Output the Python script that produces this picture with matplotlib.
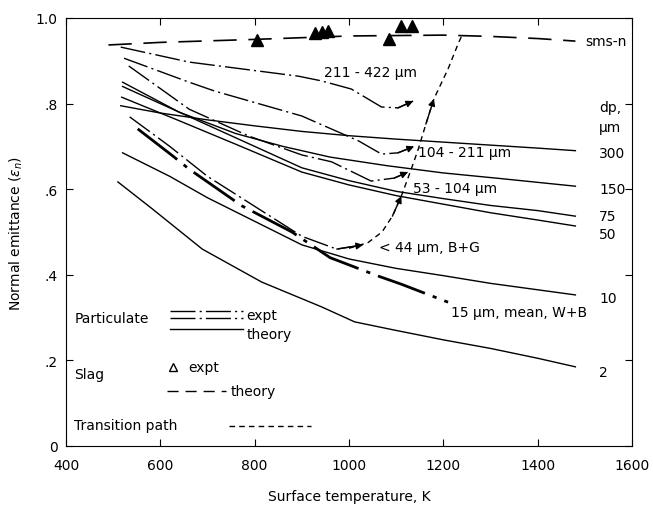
import matplotlib.pyplot as plt

# particulate theory curves, one per particle diameter (um)
t300 = [516, 600, 700, 800, 900, 1000, 1100, 1200, 1300, 1400, 1480]
e300 = [.795, .778, .762, .748, .735, .725, .717, .710, .703, .696, .690]
t150 = [520, 640, 760, 860, 960, 1080, 1200, 1320, 1480]
e150 = [.850, .780, .730, .700, .675, .655, .638, .625, .607]
t75 = [520, 640, 760, 900, 1000, 1100, 1200, 1300, 1400, 1480]
e75 = [.840, .780, .720, .650, .620, .595, .578, .562, .550, .537]
t50 = [518, 640, 760, 900, 1000, 1100, 1200, 1300, 1400, 1480]
e50 = [.815, .760, .705, .640, .610, .585, .565, .545, .528, .514]
t10 = [520, 620, 700, 800, 900, 1000, 1100, 1200, 1300, 1400, 1480]
e10 = [.685, .630, .580, .525, .470, .437, .415, .398, .380, .365, .353]
t2 = [510, 583, 689, 815, 942, 1012, 1100, 1200, 1300, 1400, 1480]
e2 = [.617, .554, .460, .383, .325, .290, .270, .248, .228, .205, .185]

dp_labels = ['300', '150', '75', '50', '10', '2']
dp_label_e = [.685, .600, .538, .496, .346, .173]

# particulate experiments
x211 = [516, 661, 893, 942, 1005, 1069, 1104, 1136]
y211 = [.932, .897, .864, .853, .834, .792, .790, .806]
x104 = [523, 661, 716, 900, 1020, 1069, 1104, 1138]
y104 = [.906, .850, .829, .771, .713, .682, .685, .700]
x53 = [533, 661, 788, 900, 963, 1047, 1096, 1125]
y53 = [.888, .787, .724, .680, .664, .619, .626, .640]
x44 = [535, 620, 700, 800, 900, 974, 1030]
y44 = [.769, .700, .630, .560, .490, .460, .470]
x15 = [552, 626, 661, 773, 879, 960, 1062, 1111, 1210]
y15 = [.741, .678, .647, .561, .500, .440, .397, .378, .336]

# slag
slag_t = [490, 600, 800, 1000, 1200, 1300, 1400, 1480]
slag_e = [.937, .943, .950, .958, .960, .957, .952, .946]
slag_exp_t = [805, 927, 942, 955, 1085, 1111, 1134]
slag_exp_e = [.949, .965, .967, .970, .951, .981, .981]

# transition path
path_t = [1000, 1040, 1070, 1092, 1111, 1132, 1147, 1163, 1180, 1210, 1233, 1241]
path_e = [.462, .475, .500, .537, .584, .647, .694, .752, .811, .881, .944, .963]

theory_curves = [(t300, e300), (t150, e150), (t75, e75),
                 (t50, e50), (t10, e10), (t2, e2)]
expt_curves = [(x211, y211), (x104, y104), (x53, y53), (x44, y44), (x15, y15)]

DASHDOT = (0, (18, 3, 1.5, 3))

fig = plt.figure(figsize=(6.53, 5.06), dpi=100)
ax = fig.add_axes([66/653, 1-447/506, 566/653, 428/506])

for t, e in theory_curves:
    ax.plot(t, e, color='k', lw=1.0)

for i, (t, e) in enumerate(expt_curves):
    lw = 2.0 if i == 4 else 1.0
    ax.plot(t, e, color='k', lw=lw, linestyle=DASHDOT)
    if i < 4:
        ax.annotate('', xy=(t[-1], e[-1]), xytext=(t[-2], e[-2]),
                    arrowprops=dict(arrowstyle='-|>', color='k', lw=1.0,
                                    mutation_scale=10, shrinkA=0, shrinkB=0))

ax.plot(slag_t, slag_e, color='k', lw=1.2, linestyle=(0, (14, 7)))
ax.plot(slag_exp_t, slag_exp_e, linestyle='none', marker='^', color='k',
        markersize=8)
ax.plot(path_t, path_e, color='k', lw=1.0, linestyle=(0, (4, 3)))
for i in (3, 7):
    ax.annotate('', xy=(path_t[i+1], path_e[i+1]), xytext=(path_t[i], path_e[i]),
                arrowprops=dict(arrowstyle='-|>', color='k', lw=1.0,
                                mutation_scale=10, shrinkA=0, shrinkB=0))

fs = 10
# curve labels
for lab, e in zip(dp_labels, dp_label_e):
    ax.text(1530, e, lab, fontsize=fs, va='center', ha='left')
ax.text(1530, .792, 'dp,', fontsize=fs, va='center', ha='left')
ax.text(1530, .745, 'μm', fontsize=fs, va='center', ha='left')
ax.text(947, .874, '211 - 422 μm', fontsize=fs, va='center', ha='left')
ax.text(1146, .687, '104 - 211 μm', fontsize=fs, va='center', ha='left')
ax.text(1135, .603, '53 - 104 μm', fontsize=fs, va='center', ha='left')
ax.text(1064, .465, '< 44 μm, B+G', fontsize=fs, va='center', ha='left')
ax.text(1216, .313, '15 μm, mean, W+B', fontsize=fs, va='center', ha='left')
ax.text(1500, .946, 'sms-n', fontsize=fs, va='center', ha='left')

# key
ax.text(418, .30, 'Particulate', fontsize=fs, va='center')
ax.plot([620, 775], [.315, .315], color='k', lw=1.0, linestyle=DASHDOT)
ax.plot([620, 775], [.300, .300], color='k', lw=1.0, linestyle=DASHDOT)
ax.plot([620, 775], [.273, .273], color='k', lw=1.0)
ax.text(782, .307, 'expt', fontsize=fs, va='center')
ax.text(782, .262, 'theory', fontsize=fs, va='center')
ax.text(418, .168, 'Slag', fontsize=fs, va='center')
ax.plot([627], [.185], marker='^', markerfacecolor='none', color='k',
        markersize=6, linestyle='none')
ax.text(660, .185, 'expt', fontsize=fs, va='center')
ax.plot([615, 740], [.128, .128], color='k', lw=1.0, linestyle=(0, (8, 5)))
ax.text(750, .128, 'theory', fontsize=fs, va='center')
ax.text(418, .048, 'Transition path', fontsize=fs, va='center')
ax.plot([745, 920], [.046, .046], color='k', lw=1.0, linestyle=(0, (4, 3)))

ax.set_xlim(400, 1600)
ax.set_ylim(0, 1.0)
ax.set_xticks(range(400, 1601, 200))
ax.set_yticks([0, .2, .4, .6, .8, 1.0])
ax.set_yticklabels(['0', '.2', '.4', '.6', '.8', '1.0'])
ax.tick_params(direction='in', top=True, right=True, labelsize=fs, length=5)
ax.tick_params(axis='x', pad=9)
ax.tick_params(axis='y', pad=6)
ax.set_xlabel('Surface temperature, K', fontsize=fs, labelpad=12)
ax.set_ylabel(r'Normal emittance ($\epsilon_n$)', fontsize=fs, labelpad=8)

fig.savefig('out.png', dpi=100)
